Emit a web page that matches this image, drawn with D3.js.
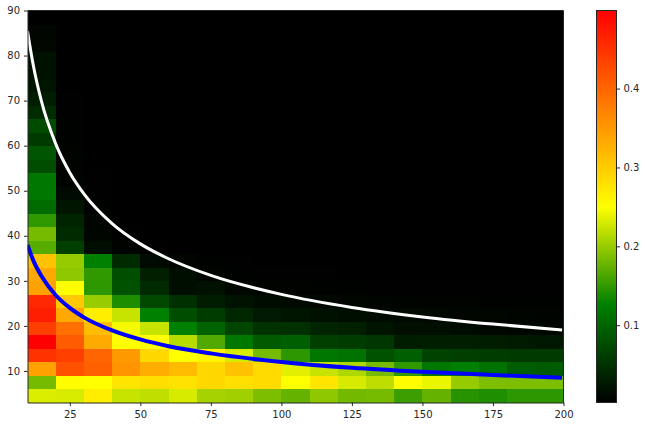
<!DOCTYPE html>
<html><head><meta charset="utf-8">
<style>html,body{margin:0;padding:0;background:#fff}svg{display:block}text{font-family:"DejaVu Sans",sans-serif;font-size:10px;fill:#262626;opacity:.99}</style>
<script src="https://cdn.jsdelivr.net/npm/d3@7/dist/d3.min.js"></script>
</head><body><svg id="c" width="645" height="426"></svg>
<script>
const xEdges=[10,20,30,40,50,60,70,80,90,100,110,120,130,140,150,160,170,180,190,200];
const yEdges=[3,6,9,12,15,18,21,24,27,30,33,36,39,42,45,48,51,54,57,60,63,66,69,72,75,78,81,84,87,90];
const xTicks=[25,50,75,100,125,150,175,200];
const yTicks=[10,20,30,40,50,60,70,80,90];
const barTicks=[0.1,0.2,0.3,0.4];
const colorStops=[0.002,0.126,0.25,0.499];
const colorNames=["#000000","#008000","#ffff00","#ff0000"];
// rows listed from the bottom (y 3-6) upward
const cellValues=[
[.233,.231,.267,.223,.219,.23,.206,.204,.187,.175,.196,.182,.184,.155,.175,.145,.141,.148,.148],
[.184,.252,.25,.275,.281,.277,.288,.28,.285,.25,.275,.23,.218,.252,.24,.199,.187,.187,.187],
[.342,.42,.405,.354,.33,.316,.288,.31,.285,.235,.223,.211,.184,.15,.118,.126,.112,.092,.09],
[.45,.437,.4,.35,.288,.25,.26,.23,.184,.148,.118,.112,.08,.094,.067,.063,.06,.058,.058],
[.499,.41,.333,.25,.25,.216,.165,.118,.09,.094,.063,.06,.055,.03,.032,.032,.03,.027,.025],
[.437,.39,.315,.245,.223,.126,.098,.07,.05,.048,.038,.033,.022,.017,.017,.014,.01,.009,.008],
[.47,.335,.267,.223,.126,.077,.06,.04,.026,.022,.018,.016,.014,.012,.01,.009,.008,.007,.006],
[.46,.304,.2,.14,.072,.048,.03,.02,.014,.012,.01,.008,.007,.006,.005,.005,.004,.004,.004],
[.342,.25,.148,.08,.044,.016,.018,.009,.006,.005,.004,.004,.003,.003,.003,.003,.003,.003,.003],
[.335,.196,.15,.078,.033,.016,.006,.004,.003,.003,.003,.002,.002,.002,.002,.002,.002,.002,.002],
[.31,.199,.126,.044,.012,.007,.004,.003,.002,.002,.002,.002,.002,.002,.002,.002,.002,.002,.002],
[.169,.063,.016,.006,.003,.002,.002,.002,.002,.002,.002,.002,.002,.002,.002,.002,.002,.002,.002],
[.184,.044,.008,.003,.002,.002,.002,.002,.002,.002,.002,.002,.002,.002,.002,.002,.002,.002,.002],
[.15,.036,.007,.002,.002,.002,.002,.002,.002,.002,.002,.002,.002,.002,.002,.002,.002,.002,.002],
[.107,.022,.004,.002,.002,.002,.002,.002,.002,.002,.002,.002,.002,.002,.002,.002,.002,.002,.002],
[.118,.012,.003,.002,.002,.002,.002,.002,.002,.002,.002,.002,.002,.002,.002,.002,.002,.002,.002],
[.118,.006,.003,.002,.002,.002,.002,.002,.002,.002,.002,.002,.002,.002,.002,.002,.002,.002,.002],
[.077,.005,.002,.002,.002,.002,.002,.002,.002,.002,.002,.002,.002,.002,.002,.002,.002,.002,.002],
[.085,.006,.002,.002,.002,.002,.002,.002,.002,.002,.002,.002,.002,.002,.002,.002,.002,.002,.002],
[.058,.004,.002,.002,.002,.002,.002,.002,.002,.002,.002,.002,.002,.002,.002,.002,.002,.002,.002],
[.075,.004,.002,.002,.002,.002,.002,.002,.002,.002,.002,.002,.002,.002,.002,.002,.002,.002,.002],
[.044,.003,.002,.002,.002,.002,.002,.002,.002,.002,.002,.002,.002,.002,.002,.002,.002,.002,.002],
[.03,.003,.002,.002,.002,.002,.002,.002,.002,.002,.002,.002,.002,.002,.002,.002,.002,.002,.002],
[.022,.002,.002,.002,.002,.002,.002,.002,.002,.002,.002,.002,.002,.002,.002,.002,.002,.002,.002],
[.018,.002,.002,.002,.002,.002,.002,.002,.002,.002,.002,.002,.002,.002,.002,.002,.002,.002,.002],
[.018,.002,.002,.002,.002,.002,.002,.002,.002,.002,.002,.002,.002,.002,.002,.002,.002,.002,.002],
[.01,.002,.002,.002,.002,.002,.002,.002,.002,.002,.002,.002,.002,.002,.002,.002,.002,.002,.002],
[.008,.002,.002,.002,.002,.002,.002,.002,.002,.002,.002,.002,.002,.002,.002,.002,.002,.002,.002],
[.002,.002,.002,.002,.002,.002,.002,.002,.002,.002,.002,.002,.002,.002,.002,.002,.002,.002,.002]
];
const curveX=[10,12,15,20,25,30,40,50,60,75,100,125,150,175,199.5];
const whiteCurve=[85.4,78,69.7,60.4,54,49.3,42.7,38.2,34.9,31.2,27,24.1,22,20.4,19.1];
const blueCurve=[38,34.6,31,26.8,24,21.9,19,17,15.5,13.9,12,10.7,9.8,9.1,8.5];

const svg=d3.select("#c");
const box={l:27.5,r:563.5,t:10.5,b:402.5};
const x=d3.scaleLinear().domain([10,200]).range([box.l,box.r]);
const y=d3.scaleLinear().domain([3,90]).range([box.b,box.t]);
const color=d3.scaleLinear().domain(colorStops).range(colorNames).interpolate(d3.interpolateRgb).clamp(true);
const barScale=d3.scaleLinear().domain([colorStops[0],colorStops[3]]).range([box.b,box.t]);

const defs=svg.append("defs");
defs.append("clipPath").attr("id","plot").append("rect")
  .attr("x",box.l).attr("y",box.t).attr("width",box.r-box.l).attr("height",box.b-box.t);

const cells=cellValues.flatMap((row,i)=>row.map((v,j)=>({v,i,j})));
svg.append("g").attr("shape-rendering","crispEdges").selectAll("rect").data(cells).join("rect")
  .attr("x",d=>x(xEdges[d.j])).attr("y",d=>y(yEdges[d.i+1]))
  .attr("width",d=>x(xEdges[d.j+1])-x(xEdges[d.j])+0.5)
  .attr("height",d=>y(yEdges[d.i])-y(yEdges[d.i+1])+0.5)
  .attr("fill",d=>color(d.v));

const line=vals=>d3.line().x((d,i)=>x(curveX[i])).y(d=>y(d)).curve(d3.curveMonotoneX)(vals);
const lines=svg.append("g").attr("clip-path","url(#plot)");
lines.append("path").attr("d",line(whiteCurve)).attr("fill","none").attr("stroke","#fff").attr("stroke-width",3);
lines.append("path").attr("d",line(blueCurve)).attr("fill","none").attr("stroke","#0000ff").attr("stroke-width",4);

function styleAxis(g){
  g.selectAll(".domain").attr("stroke","#262626").attr("stroke-width",1);
  g.selectAll(".tick line").attr("stroke","#262626").attr("stroke-width",1);
  g.selectAll("text").attr("fill","#262626").style("font-family",'"DejaVu Sans",sans-serif').style("font-size","10px");
}
svg.append("g").attr("transform",`translate(0,${box.b})`)
  .call(d3.axisBottom(x).tickValues(xTicks).tickSize(3.5).tickPadding(4.5).tickSizeOuter(0)).call(styleAxis);
svg.append("g").attr("transform",`translate(${box.l},0)`)
  .call(d3.axisLeft(y).tickValues(yTicks).tickSize(3.5).tickPadding(4).tickSizeOuter(0)).call(styleAxis);
svg.append("line").attr("x1",box.r).attr("x2",box.r).attr("y1",box.t).attr("y2",box.b).attr("stroke","#262626");
svg.append("line").attr("x1",box.l).attr("x2",box.r).attr("y1",box.t).attr("y2",box.t).attr("stroke","#262626");

// colourbar
const barX=596.5,barW=20;
const grad=defs.append("linearGradient").attr("id","bar").attr("x1",0).attr("x2",0).attr("y1",1).attr("y2",0);
colorStops.forEach((s,i)=>grad.append("stop")
  .attr("offset",(s-colorStops[0])/(colorStops[3]-colorStops[0])).attr("stop-color",colorNames[i]));
svg.append("rect").attr("x",barX).attr("y",box.t).attr("width",barW).attr("height",box.b-box.t)
  .attr("fill","url(#bar)").attr("stroke","#262626").attr("stroke-width",1);
svg.append("g").attr("transform",`translate(${barX+barW},0)`)
  .call(d3.axisRight(barScale).tickValues(barTicks).tickFormat(d3.format(".1f")).tickSize(3.5).tickPadding(3.5).tickSizeOuter(0))
  .call(styleAxis).call(g=>g.select(".domain").remove());
</script></body></html>
